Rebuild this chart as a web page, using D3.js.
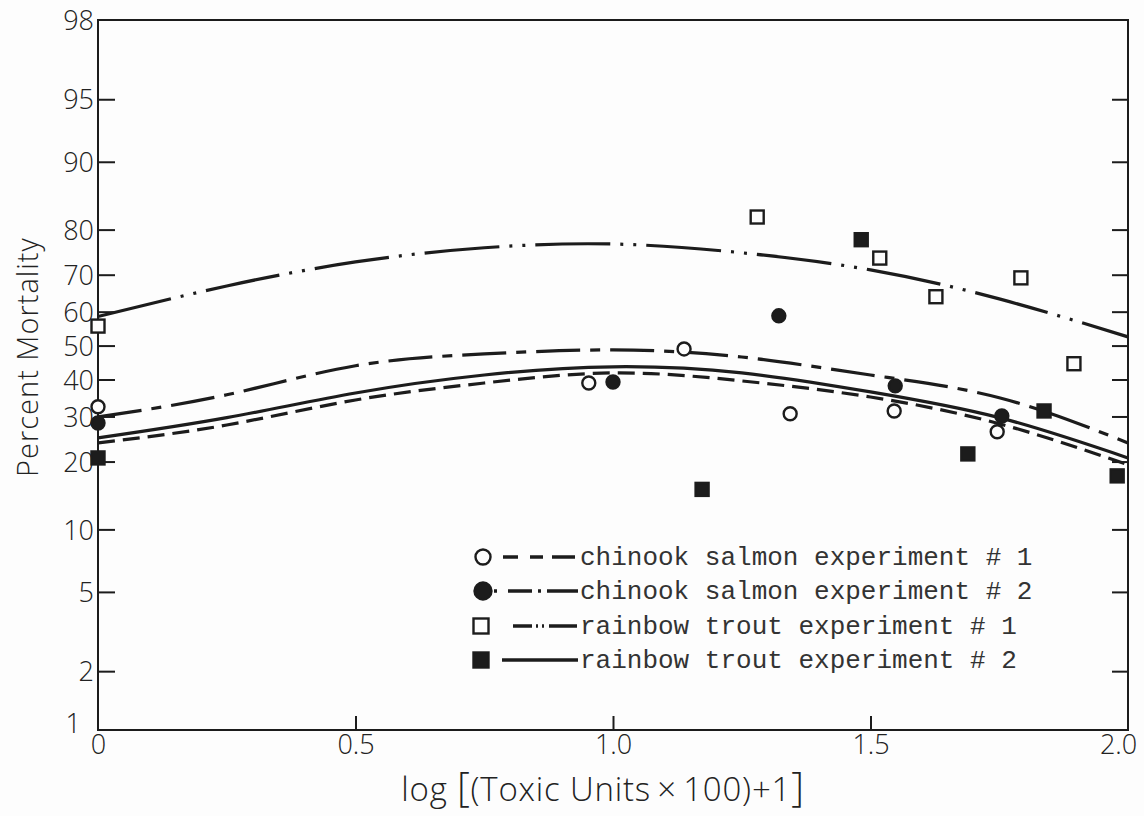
<!DOCTYPE html>
<html>
<head>
<meta charset="utf-8">
<script src="https://cdn.jsdelivr.net/npm/d3@7"></script>
<style>
  html, body { margin: 0; padding: 0; background: #fdfdfd; }
  svg { display: block; }
  .tick-label { font-family: "Open Sans", "Lato", sans-serif; font-weight: 300; fill: #222; }
</style>
</head>
<body>
<svg id="chart" width="1144" height="816"></svg>
<script>
// ---------------- DATA ----------------
const yTicks = [1, 2, 5, 10, 20, 30, 40, 50, 60, 70, 80, 90, 95, 98];
const xTicks = [0, 0.5, 1.0, 1.5, 2.0];
const xTickLabels = ["0", "0.5", "1.0", "1.5", "2.0"];

// observed points (x = log[(TU*100)+1], y = percent mortality)
const chinook1X = [0.0, 0.953, 1.138, 1.344, 1.546, 1.746];
const chinook1Y = [32.5, 39.0, 49.0, 30.7, 31.4, 26.3];
const chinook2X = [0.0, 1.0, 1.322, 1.548, 1.755];
const chinook2Y = [28.4, 39.3, 58.8, 38.2, 30.1];
const trout1X = [0.0, 1.28, 1.518, 1.627, 1.792, 1.895];
const trout1Y = [55.8, 82.3, 74.0, 64.2, 69.2, 44.6];
const trout2X = [0.0, 1.173, 1.482, 1.689, 1.837, 1.979];
const trout2Y = [20.7, 15.2, 78.0, 21.5, 31.4, 17.4];

// fitted curves
const fitX = [0, 0.25, 0.5, 0.75, 1.0, 1.25, 1.5, 1.75, 2.0];
const chinook1Fit = [23.8, 27.9, 34.3, 39.0, 41.9, 39.6, 35.1, 28.2, 19.4];
const chinook2Fit = [29.9, 35.7, 44.0, 47.5, 48.7, 46.6, 41.3, 34.9, 23.8];
const trout1Fit   = [58.6, 67.1, 73.1, 76.3, 77.1, 75.2, 71.2, 63.6, 52.6];
const trout2Fit   = [24.9, 29.7, 36.2, 41.3, 43.7, 41.9, 36.5, 29.7, 20.7];

const seriesNames = [
  "chinook salmon experiment # 1",
  "chinook salmon experiment # 2",
  "rainbow trout experiment # 1",
  "rainbow trout experiment # 2"
];

// ---------------- LAYOUT ----------------
const ink = "#1c1c1c";
const mLeft = 98, mRight = 1128, mTop = 20, mBottom = 730;
const logit = p => Math.log(p / (100 - p));

const x = d3.scaleLinear().domain([0, 2]).range([mLeft, mRight]);
const yL = d3.scaleLinear().domain([logit(1), logit(98)]).range([mBottom, mTop]);
const y = p => yL(logit(p));

const svg = d3.select("#chart");

// frame
svg.append("rect").attr("x", mLeft).attr("y", mTop)
  .attr("width", mRight - mLeft).attr("height", mBottom - mTop)
  .attr("fill", "none").attr("stroke", ink).attr("stroke-width", 2);

// left axis
const yAxisL = d3.axisLeft(yL).tickValues(yTicks.map(logit))
  .tickFormat((d, i) => String(yTicks[i])).tickSizeInner(-17).tickSizeOuter(0);
const gL = svg.append("g").attr("transform", `translate(${mLeft},0)`).call(yAxisL);
gL.select(".domain").remove();
gL.selectAll(".tick line").attr("stroke", ink).attr("stroke-width", 2)
  .filter((d, i) => yTicks[i] === 98 || yTicks[i] === 1).remove();
gL.selectAll(".tick text").attr("class", "tick-label").attr("font-size", 27)
  .attr("fill", "#222").attr("x", -4)
  .attr("dx", (d, i) => yTicks[i] === 1 ? -13 : 0)
  .attr("dy", (d, i) => yTicks[i] === 1 ? "0.1em" : "0.36em");

// right axis
const yAxisR = d3.axisRight(yL).tickValues(yTicks.filter(t => t !== 1 && t !== 98).map(logit))
  .tickFormat("").tickSizeInner(-16).tickSizeOuter(0);
const gR = svg.append("g").attr("transform", `translate(${mRight},0)`).call(yAxisR);
gR.select(".domain").remove();
gR.selectAll(".tick line").attr("stroke", ink).attr("stroke-width", 2);

// bottom axis
const xAxis = d3.axisBottom(x).tickValues(xTicks)
  .tickFormat((d, i) => xTickLabels[i]).tickSizeInner(-14).tickSizeOuter(0);
const gB = svg.append("g").attr("transform", `translate(0,${mBottom})`).call(xAxis);
gB.select(".domain").remove();
gB.selectAll(".tick line").attr("stroke", ink).attr("stroke-width", 2)
  .filter((d, i) => i === 0 || i === xTicks.length - 1).remove();
gB.selectAll(".tick text").attr("class", "tick-label").attr("font-size", 27)
  .attr("fill", "#222").attr("y", 5).attr("dy", "0.71em")
  .attr("dx", (d, i) => i === xTicks.length - 1 ? -10 : 0);

// axis titles
svg.append("text").attr("x", 603).attr("y", 801)
  .attr("text-anchor", "middle").attr("font-family", "'Open Sans', Lato, sans-serif")
  .attr("font-weight", 300).attr("letter-spacing", 0.8)
  .attr("font-size", 33).attr("fill", "#222")
  .html('log  <tspan font-size="40" font-weight="300">[</tspan>(Toxic Units\u2009\u00d7\u2009100)+1<tspan font-size="40" font-weight="300">]</tspan>');

svg.append("text").attr("transform", "translate(38,357) rotate(-90)")
  .attr("text-anchor", "middle").attr("font-family", "'Open Sans', Lato, sans-serif")
  .attr("font-weight", 300).attr("letter-spacing", 1)
  .attr("font-size", 29).attr("fill", "#222").text("Percent  Mortality");

// ---------------- CURVES ----------------
const dashes = ["17,8", "44,10,10,10", "75,10,3,10,3,10", null];
const fits = [chinook1Fit, chinook2Fit, trout1Fit, trout2Fit];
const line = d3.line().x(d => x(d[0])).y(d => y(d[1])).curve(d3.curveNatural);
const plot = svg.append("g");
fits.forEach((f, i) => {
  plot.append("path")
    .datum(fitX.map((xv, j) => [xv, f[j]]))
    .attr("d", line).attr("fill", "none").attr("stroke", ink)
    .attr("stroke-width", 3.2)
    .attr("stroke-dasharray", dashes[i]);
});

// ---------------- POINTS ----------------
function drawMarker(g, type, cx, cy, s) {
  if (type === 0 || type === 1) {
    g.append("circle").attr("cx", cx).attr("cy", cy).attr("r", s)
      .attr("fill", type === 1 ? ink : "#fdfdfd").attr("stroke", ink).attr("stroke-width", 2.4);
  } else {
    g.append("rect").attr("x", cx - s).attr("y", cy - s).attr("width", 2 * s).attr("height", 2 * s)
      .attr("fill", type === 3 ? ink : "#fdfdfd").attr("stroke", ink).attr("stroke-width", 2.4);
  }
}
const ptsX = [chinook1X, chinook2X, trout1X, trout2X];
const ptsY = [chinook1Y, chinook2Y, trout1Y, trout2Y];
ptsX.forEach((xs, i) => {
  xs.forEach((xv, j) => drawMarker(plot, i, x(xv), y(ptsY[i][j]), 6.5));
});

// ---------------- LEGEND ----------------
const legendY = [557, 591, 626, 660];
const legendLine = [
  { x1: 503, dash: "15,12,13,9,23" },
  { x1: 494, dash: "3,11,24,6,3,6,31" },
  { x1: 513, dash: "19,4,2,4,2,5,28" },
  { x1: 502, dash: null }
];
const legend = svg.append("g");
seriesNames.forEach((name, i) => {
  const ly = legendY[i];
  drawMarker(legend, i, i < 2 ? 483 : 481, ly, i === 1 ? 8.5 : 7.5);
  legend.append("line").attr("x1", legendLine[i].x1).attr("x2", 578).attr("y1", ly).attr("y2", ly)
    .attr("stroke", ink).attr("stroke-width", 3.5)
    .attr("stroke-dasharray", legendLine[i].dash);
  legend.append("text").attr("x", 580).attr("y", ly).attr("dy", "0.32em")
    .attr("font-family", "'Liberation Mono', 'DejaVu Sans Mono', monospace")
    .attr("font-size", 26).attr("fill", "#333").text(name);
});
</script>
</body>
</html>
